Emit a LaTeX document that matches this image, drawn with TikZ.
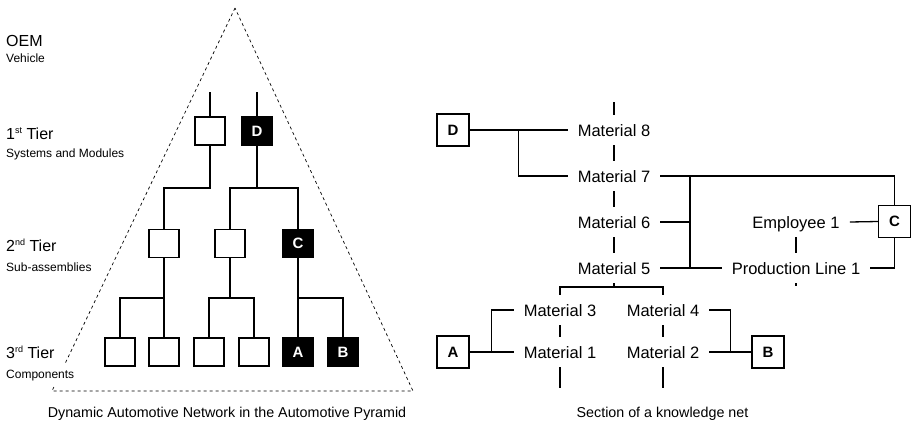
\documentclass[tikz,border=0pt]{standalone}
\usepackage{fontspec}
\setmainfont{Liberation Sans}
\usetikzlibrary{calc}

\newcommand{\supind}[1]{\raisebox{6pt}{\fontsize{9}{9}\selectfont #1}}

\tikzset{
  caja/.style={draw, line width=1.1pt, minimum width=30pt, minimum height=28pt,
    inner sep=0pt, font=\fontsize{15}{15}\selectfont\bfseries},
  cajanegra/.style={caja, fill=black, text=white},
  cajanet/.style={caja, fill=white, minimum width=32pt, minimum height=32pt},
  mat/.style={inner xsep=10pt, inner ysep=9pt, text height=12pt, text depth=0pt,
    font=\fontsize{16.5}{18}\selectfont},
  nivel/.style={anchor=base west, inner sep=0pt, font=\fontsize{16}{18}\selectfont},
  sub/.style={anchor=base west, inner sep=0pt, font=\fontsize{12}{14}\selectfont},
  pie/.style={anchor=base, inner sep=0pt, font=\fontsize{14.3}{16}\selectfont},
  linea/.style={line width=1.3pt},
  piramide/.style={line width=0.7pt, dash pattern=on 3pt off 3pt},
}

\begin{document}
\begin{tikzpicture}[x=1pt, y=-1pt]
    \useasboundingbox (0,0) rectangle (911,421);

    % Piramide
    \draw[piramide] (235,8) -- (52,391) -- (413,391) -- cycle;

    % Niveles
    \node[nivel] (oem) at (6,46) {OEM};
    \node[sub] (veh) at (6,62) {Vehicle};
    \node[nivel] (tier1) at (6,139) {1\supind{st} Tier};
    \node[sub] (sys) at (6,157) {Systems and Modules};
    \node[nivel] (tier2) at (6,251) {2\supind{nd} Tier};
    \node[sub] (subas) at (6,271) {Sub-assemblies};
    \node[nivel] (tier3) at (6,358) {3\supind{rd} Tier};
    \node[sub, fill=white, inner xsep=4pt, inner ysep=5pt] (comp) at (2,378) {Components};

    % Cajas
    \node[caja] (t1a) at (210,131) {};
    \node[cajanegra] (t1d) at (257,131) {D};
    \node[caja] (t2a) at (164,243.5) {};
    \node[caja] (t2b) at (230,243.5) {};
    \node[cajanegra] (t2c) at (298,243.5) {C};
    \node[caja] (t3a) at (120,352) {};
    \node[caja] (t3b) at (164,352) {};
    \node[caja] (t3c) at (209,352) {};
    \node[caja] (t3d) at (254,352) {};
    \node[cajanegra] (t3e) at (298,352) {A};
    \node[cajanegra] (t3f) at (343,352) {B};

    \coordinate (r2) at (0,188);
    \coordinate (r3) at (0,298);

    % Conexiones
    \draw[linea] (t1a.north) -- ++(0,-24);
    \draw[linea] (t1d.north) -- ++(0,-24);
    \draw[linea] (t1a.south) -- (t1a |- r2) -| (t2a.north);
    \draw[linea] (t1d.south) -- (t1d |- r2);
    \draw[linea] (t2b.north) |- (r2 -| t2c) -- (t2c.north);
    \draw[linea] (t2a.south) -- (t3b.north);
    \draw[linea] (t2a |- r3) -| (t3a.north);
    \draw[linea] (t2b.south) -- (t2b |- r3);
    \draw[linea] (t3c.north) |- (r3 -| t3d) -- (t3d.north);
    \draw[linea] (t2c.south) -- (t3e.north);
    \draw[linea] (t2c |- r3) -| (t3f.north);

    \node[pie] (pie1) at (227,417) {Dynamic Automotive Network in the Automotive Pyramid};

    % Red de conocimiento
    \node[mat] (m8) at (614,130) {Material 8};
    \node[mat] (m7) at (614,176) {Material 7};
    \node[mat] (m6) at (614,222) {Material 6};
    \node[mat] (m5) at (614,268) {Material 5};
    \node[mat] (m3) at (560,310) {Material 3};
    \node[mat] (m4) at (663,310) {Material 4};
    \node[mat] (m1) at (560,352) {Material 1};
    \node[mat] (m2) at (663,352) {Material 2};
    \node[mat] (emp) at (796,222) {Employee 1};
    \node[mat] (pl) at (796,268) {Production Line 1};

    \node[cajanet] (bd) at (453,130) {D};
    \node[cajanet] (bc) at (894.5,221.5) {C};
    \node[cajanet] (ba) at (453,352) {A};
    \node[cajanet] (bb) at (768,352) {B};

    \coordinate (kb) at (690,0);
    \coordinate (kr) at (0,287);

    \draw[linea] (m8.north) -- ++(0,-13);
    \draw[linea] (m8.south) -- (m7.north);
    \draw[linea] (m7.south) -- (m6.north);
    \draw[linea] (m6.south) -- (m5.north);
    \draw[linea] (m5.south) -- (m5 |- kr);
    \draw[linea] (m3.north) |- (kr -| m4) -- (m4.north);
    \draw[linea] (m3.south) -- (m1.north);
    \draw[linea] (m4.south) -- (m2.north);
    \draw[linea] (m1.south) -- ++(0,21);
    \draw[linea] (m2.south) -- ++(0,21);
    \draw[linea] (emp.south) -- (pl.north);
    \draw[linea] (pl.south) -- ++(0,3);

    \draw[linea] (bd.east) -- (m8.west);
    \draw[linea] ($(bd.east)!0.5!(m8.west)$) |- (m7.west);
    \draw[linea] (m7.east) -| (bc.north);
    \draw[linea] (m7.east -| kb) -- (m5.east -| kb);
    \draw[linea] (m6.east) -- (m6.east -| kb);
    \draw[linea] (m5.east) -- (pl.west);
    \draw[linea] (emp.east) -- (bc.west);
    \draw[linea] (pl.east) -| (bc.south);

    \draw[linea] (ba.east) -- (m1.west);
    \draw[linea] ($(ba.east)!0.5!(m1.west)$) |- (m3.west);
    \draw[linea] (m2.east) -- (bb.west);
    \draw[linea] ($(m2.east)!0.5!(bb.west)$) |- (m4.east);

    \node[pie] (pie2) at (662.5,417) {Section of a knowledge net};
\end{tikzpicture}
\end{document}
